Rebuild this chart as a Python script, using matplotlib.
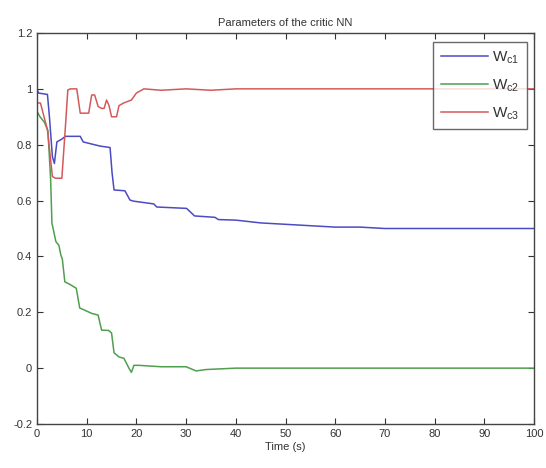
import matplotlib
matplotlib.use("Agg")
import matplotlib.pyplot as plt
from matplotlib.ticker import FuncFormatter

plt.rcParams['font.family'] = ['Liberation Sans', 'DejaVu Sans']

# Wc1 (blue)
t1 = [0, 0.3, 2.1, 2.5, 3.1, 3.5, 4.0, 5.0, 5.7, 8.7, 9.3, 12.7, 14.7, 15.1, 15.5, 17.7, 18.7, 19.4, 23.5, 24.1, 30.1, 31.7, 35.8, 36.5, 40, 45, 50, 55, 60, 65, 70, 80, 90, 100]
w1 = [1.0, 0.985, 0.98, 0.9, 0.757, 0.733, 0.81, 0.82, 0.83, 0.83, 0.81, 0.795, 0.79, 0.7, 0.638, 0.635, 0.602, 0.598, 0.588, 0.577, 0.572, 0.545, 0.54, 0.532, 0.53, 0.52, 0.515, 0.51, 0.505, 0.505, 0.5, 0.5, 0.5, 0.5]

# Wc2 (green)
t2 = [0, 0.6, 1.5, 2.2, 2.75, 3.0, 3.8, 4.4, 4.8, 5.1, 5.6, 6.6, 7.9, 8.6, 9.3, 11.0, 12.3, 13.0, 14.4, 15.0, 15.5, 16.5, 17.5, 18.5, 19.0, 19.5, 20.5, 25, 30, 32, 34, 40, 50, 60, 70, 80, 90, 100]
w2 = [0.92, 0.9, 0.88, 0.85, 0.674, 0.52, 0.453, 0.44, 0.405, 0.39, 0.309, 0.3, 0.286, 0.215, 0.21, 0.196, 0.19, 0.136, 0.135, 0.126, 0.055, 0.04, 0.035, 0.0, -0.015, 0.01, 0.01, 0.005, 0.005, -0.01, -0.005, 0.0, 0.0, 0.0, 0.0, 0.0, 0.0, 0.0]

# Wc3 (red)
t3 = [0, 0.7, 2.1, 3.1, 3.7, 5.0, 5.7, 6.2, 6.7, 8.0, 8.7, 10.4, 11.0, 11.6, 12.3, 13.0, 13.5, 14.0, 14.5, 15.0, 16.0, 16.5, 17.5, 19, 20, 21.5, 25, 30, 35, 40, 50, 60, 70, 80, 90, 100]
w3 = [0.95, 0.949, 0.853, 0.686, 0.68, 0.68, 0.86, 0.996, 1.0, 1.0, 0.913, 0.913, 0.978, 0.978, 0.937, 0.93, 0.93, 0.96, 0.94, 0.9, 0.9, 0.94, 0.95, 0.96, 0.985, 1.0, 0.995, 1.0, 0.995, 1.0, 1.0, 1.0, 1.0, 1.0, 1.0, 1.0]

labels = [r'$\mathregular{W_{c1}}$', r'$\mathregular{W_{c2}}$', r'$\mathregular{W_{c3}}$']
colors = ['#4b4bc3', '#4f9f4f', '#d45a5a']

fig = plt.figure(figsize=(5.46, 4.68), dpi=100)
ax = fig.add_axes([37/546, 1-424/468, (534-37)/546, (424-33)/468])
ax.plot(t1, w1, color=colors[0], lw=1.1, label=labels[0])
ax.plot(t2, w2, color=colors[1], lw=1.1, label=labels[1])
ax.plot(t3, w3, color=colors[2], lw=1.1, label=labels[2])

ax.set_xlim(0, 100)
ax.set_ylim(-0.2, 1.2)
ax.set_xticks(range(0, 101, 10))
ax.set_yticks([-0.2, 0, 0.2, 0.4, 0.6, 0.8, 1.0, 1.2])
ax.yaxis.set_major_formatter(FuncFormatter(lambda v, p: '%g' % round(v, 2)))
ax.tick_params(direction='in', top=True, right=True, labelsize=8, length=4, colors='#333333')
for s in ax.spines.values():
    s.set_color('#444444')
    s.set_linewidth(1.0)
ax.set_xlabel('Time (s)', fontsize=8, labelpad=2, color='#333333')
ax.set_title('Parameters of the critic NN', fontsize=8, pad=5, color='#333333')
leg = ax.legend(loc='upper right', bbox_to_anchor=((527-37)/497, 1-(42-33)/391),
                borderaxespad=0, fontsize=11, frameon=True, fancybox=False,
                edgecolor='#444444', handlelength=3.1, handletextpad=0.25,
                borderpad=0.5, labelspacing=0.75)
leg.get_frame().set_linewidth(1.0)
for txt in leg.get_texts():
    txt.set_color('#333333')
fig.savefig('out.png', dpi=100)
